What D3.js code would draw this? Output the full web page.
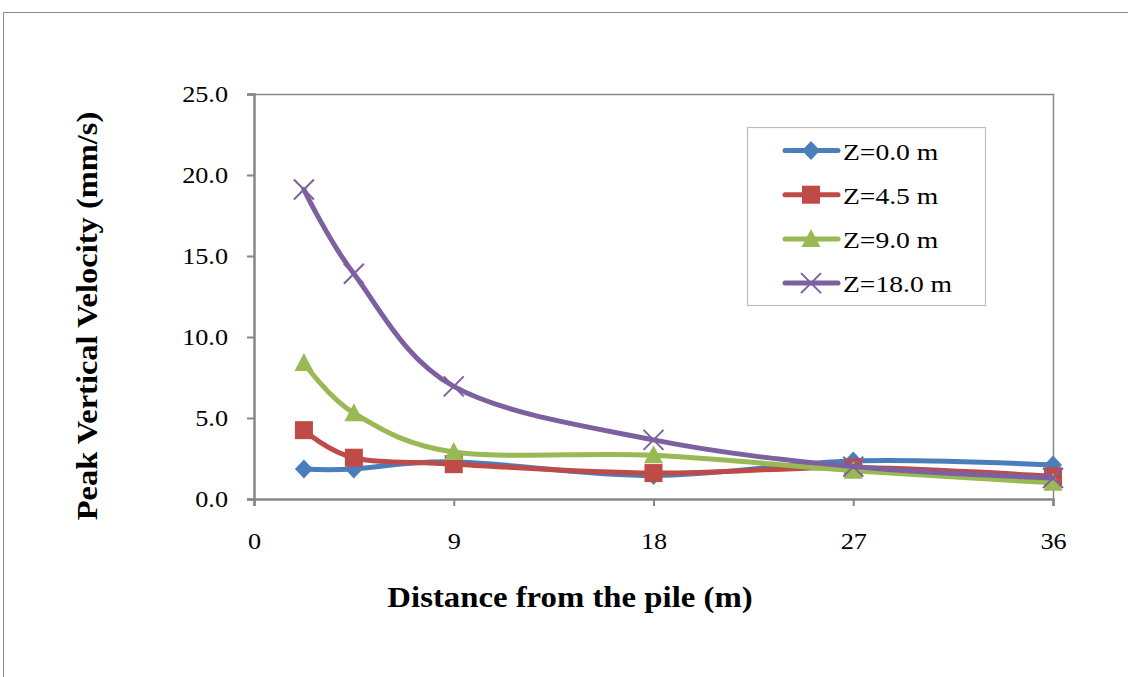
<!DOCTYPE html>
<html><head><meta charset="utf-8">
<script src="https://cdn.jsdelivr.net/npm/d3@7"></script>
<style>body{margin:0;background:#fff}svg{display:block}</style>
</head><body>
<svg id="c" width="1128" height="677"></svg>
<script>
const distances = [2.25, 4.5, 9, 18, 27, 36];
const z00 = [1.85, 1.85, 2.3, 1.45, 2.35, 2.1];
const z45 = [4.25, 2.55, 2.15, 1.6, 1.95, 1.4];
const z90 = [8.4, 5.3, 2.9, 2.7, 1.75, 1.0];
const z180 = [19.1, 13.9, 6.95, 3.65, 2.0, 1.3];
const seriesNames = ["Z=0.0 m", "Z=4.5 m", "Z=9.0 m", "Z=18.0 m"];
const xTicks = [0, 9, 18, 27, 36];
const yTicks = [0, 5, 10, 15, 20, 25];

const colors = ["#4A7EBB", "#BE4B48", "#98B954", "#7D60A0"];
const markers = ["diamond", "square", "triangle", "x"];
const series = [z00, z45, z90, z180].map((v, i) => ({
  name: seriesNames[i], color: colors[i], marker: markers[i],
  pts: distances.map((d, j) => [d, v[j]])
}));

const svg = d3.select("#c");
const font = "'Liberation Serif','Times New Roman',serif";
function stretch(sel, k) {
  sel.each(function () {
    const w = this.getComputedTextLength();
    d3.select(this).attr("textLength", w * k).attr("lengthAdjust", "spacingAndGlyphs");
  });
}
// outer frame
svg.append("path").attr("d", "M3.5,677 V12.5 H1128").attr("fill", "none").attr("stroke", "#8c8c8c").attr("stroke-width", 1);

const L = 254, R = 1053, T = 94, B = 499;
const x = d3.scaleLinear().domain([0, 36]).range([L, R]);
const y = d3.scaleLinear().domain([0, 25]).range([B, T]);
const axisCol = "#868686";

// plot frame top/right
svg.append("path").attr("d", `M${L},${T}.5 H${R}.5 V${B}`).attr("fill", "none").attr("stroke", axisCol).attr("stroke-width", 1.5);

const yAxis = svg.append("g").attr("transform", `translate(${L},0)`)
  .call(d3.axisLeft(y).tickValues(yTicks).tickSize(7).tickPadding(19).tickFormat(d3.format(".1f")));
const xAxis = svg.append("g").attr("transform", `translate(0,${B})`)
  .call(d3.axisBottom(x).tickValues(xTicks).tickSize(7).tickPadding(27).tickFormat(d3.format("d")));
[xAxis, yAxis].forEach(g => {
  g.selectAll("path,line").attr("stroke", axisCol).attr("stroke-width", 2);
  g.select(".domain").attr("stroke-width", 2.5);
  g.selectAll("text").attr("font-family", font).attr("font-size", 23).attr("fill", "#000");
  stretch(g.selectAll("text"), 1.14);
});

const line = d3.line().x(d => x(d[0])).y(d => y(d[1])).curve(d3.curveCardinal.tension(0));

function drawMarker(g, type, cx, cy, color) {
  if (type === "diamond") {
    g.append("path").attr("d", `M${cx},${cy-9.5} L${cx+9},${cy} L${cx},${cy+9.5} L${cx-9},${cy} Z`).attr("fill", color);
  } else if (type === "square") {
    g.append("rect").attr("x", cx-9).attr("y", cy-9).attr("width", 18).attr("height", 18).attr("fill", color);
  } else if (type === "triangle") {
    g.append("path").attr("d", `M${cx},${cy-10} L${cx+9.5},${cy+8} L${cx-9.5},${cy+8} Z`).attr("fill", color);
  } else {
    g.append("path").attr("d", `M${cx-10},${cy-10} L${cx+10},${cy+10} M${cx-10},${cy+10} L${cx+10},${cy-10}`).attr("stroke", color).attr("stroke-width", 2);
  }
}

series.forEach(s => {
  svg.append("path").datum(s.pts).attr("d", line).attr("fill", "none")
    .attr("stroke", s.color).attr("stroke-width", 5).attr("stroke-linecap", "round");
  const g = svg.append("g");
  s.pts.forEach(p => drawMarker(g, s.marker, x(p[0]), y(p[1]), s.color));
});

// legend
const lg = svg.append("g");
lg.append("rect").attr("x", 747.5).attr("y", 127.5).attr("width", 238).attr("height", 178)
  .attr("fill", "#fff").attr("stroke", "#bfbfbf").attr("stroke-width", 1.2);
series.forEach((s, i) => {
  const cy = 150.5 + i * 44.2;
  lg.append("line").attr("x1", 785).attr("x2", 838).attr("y1", cy).attr("y2", cy)
    .attr("stroke", s.color).attr("stroke-width", 5).attr("stroke-linecap", "round");
  drawMarker(lg, s.marker, 811, cy, s.color);
  const t = lg.append("text").attr("x", 843).attr("y", cy + 9).attr("font-family", font).attr("font-size", 23).text(s.name);
  stretch(t, 1.2);
});

// axis titles
const xt = svg.append("text").attr("x", 570).attr("y", 607).attr("text-anchor", "middle")
  .attr("font-family", font).attr("font-weight", "bold").attr("font-size", 29).text("Distance from the pile (m)");
stretch(xt, 1.13);
const yt = svg.append("text").attr("transform", "translate(97,316) rotate(-90)").attr("text-anchor", "middle")
  .attr("font-family", font).attr("font-weight", "bold").attr("font-size", 29).text("Peak Vertical Velocity (mm/s)");
stretch(yt, 1.12);
</script>
</body></html>
